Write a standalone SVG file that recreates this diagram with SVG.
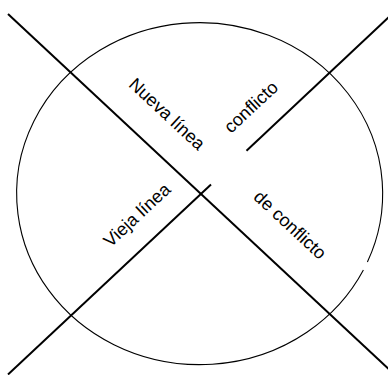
<svg xmlns="http://www.w3.org/2000/svg" width="388" height="375" viewBox="0 0 388 375">
<style>
.ln{stroke:#000;stroke-width:2;fill:none;stroke-linecap:butt}
.el{stroke:#000;stroke-width:1.1;fill:none}
.t{font-family:"Liberation Sans",Arial,sans-serif;font-size:18px;fill:#000;text-anchor:middle;dominant-baseline:central}
</style>
<rect width="388" height="375" fill="#fff"/>
<g id="circle">
<path class="el" d="M 363.4 270 A 183 171 0 1 1 367.4 262"/>
</g>
<g id="connectors">
<line class="ln" x1="8" y1="14" x2="392" y2="372"/>
<line class="ln" x1="8" y1="374.5" x2="211" y2="184.5"/>
<line class="ln" x1="246.5" y1="150.8" x2="390" y2="16"/>
</g>
<g id="label-nueva"><text class="t" transform="translate(167,114) rotate(43)">Nueva línea</text></g>
<g id="label-conflicto"><text class="t" transform="translate(251,107) rotate(-43)">conflicto</text></g>
<g id="label-vieja"><text class="t" transform="translate(137,215) rotate(-43)">Vieja línea</text></g>
<g id="label-deconflicto"><text class="t" transform="translate(290,225) rotate(43)">de conflicto</text></g>
</svg>
